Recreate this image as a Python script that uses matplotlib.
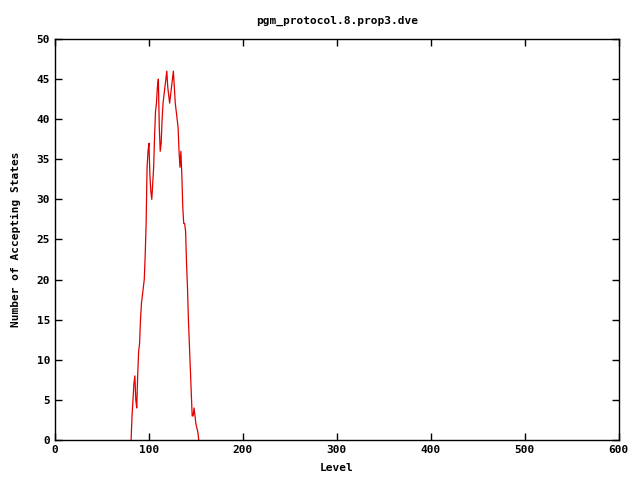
import matplotlib
matplotlib.use('Agg')
import matplotlib.pyplot as plt

# accepting states per BFS level
levels = list(range(81, 154))
accepting = [0, 3, 5, 7, 8, 5, 4, 8, 11, 12,
             15, 17, 18, 19, 20, 23, 27, 34, 36, 37,
             33, 31, 30, 32, 34, 38, 41, 42, 44, 45,
             39, 36, 37, 40, 42, 43, 44, 45, 46, 44,
             43, 42, 43, 44, 45, 46, 44, 42, 41, 40,
             39, 36, 34, 36, 33, 29, 27, 27, 26, 22,
             19, 15, 12, 9, 6, 3, 3, 4, 3, 2,
             1.5, 1, 0]

plt.rcParams['font.family'] = 'DejaVu Sans Mono'
plt.rcParams['font.size'] = 8
plt.rcParams['font.weight'] = 'bold'

fig = plt.figure(figsize=(6.4, 4.8), dpi=100)
ax = fig.add_axes([0.0859, 0.0833, 0.881, 0.8355])
ax.plot(levels, accepting, color='#e00000', linewidth=0.9)

ax.set_xlim(0, 600)
ax.set_ylim(0, 50)
ax.set_xticks(range(0, 601, 100))
ax.set_yticks(range(0, 51, 5))
ax.tick_params(direction='in', top=True, right=True, length=5, width=1, labelsize=8)
for s in ax.spines.values():
    s.set_linewidth(1)

ax.set_title('pgm_protocol.8.prop3.dve', fontsize=8, fontweight='bold', pad=11)
ax.set_xlabel('Level', fontsize=8, fontweight='bold', labelpad=6)
ax.set_ylabel('Number of Accepting States', fontsize=8, fontweight='bold', labelpad=11)

fig.savefig('out.png', dpi=100)
